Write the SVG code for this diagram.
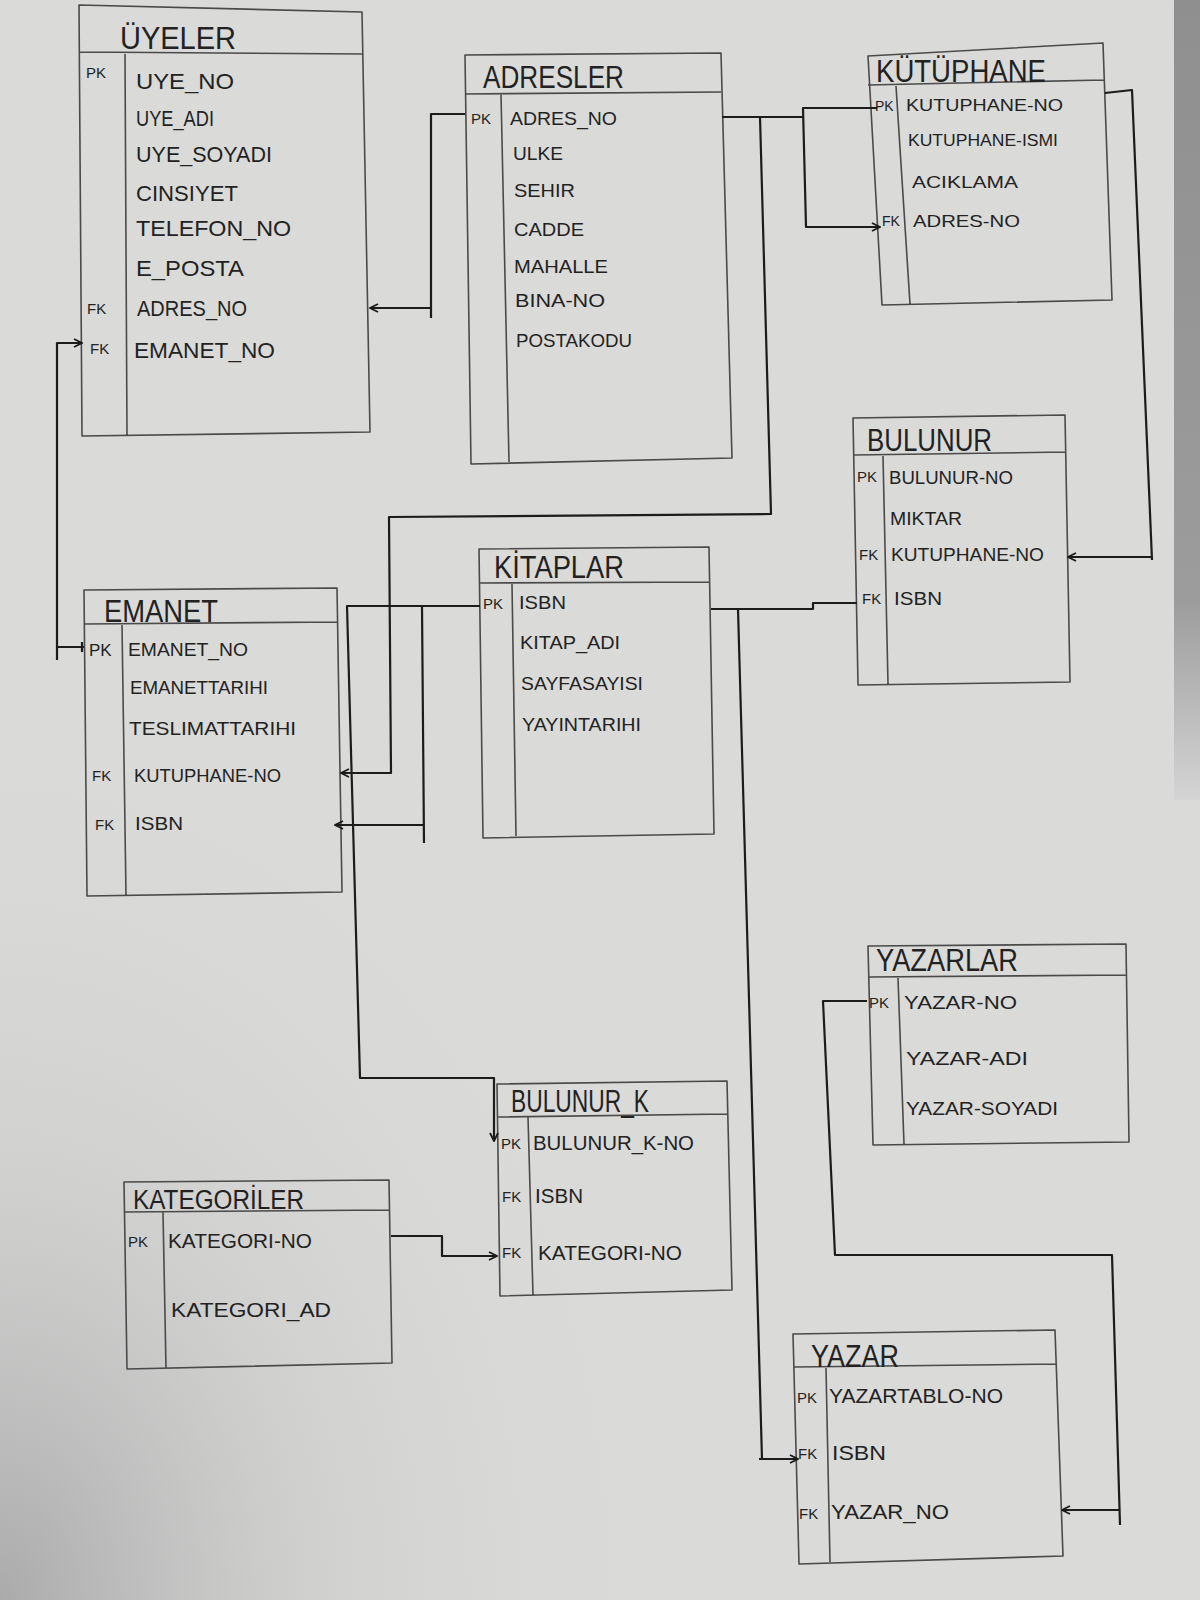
<svg xmlns="http://www.w3.org/2000/svg" width="1200" height="1600" viewBox="0 0 1200 1600">
<defs>
<radialGradient id="shade" cx="0" cy="1" r="0.55" gradientUnits="objectBoundingBox">
<stop offset="0" stop-color="#a2a2a2" stop-opacity="0.85"/>
<stop offset="0.5" stop-color="#c0c0c0" stop-opacity="0.35"/>
<stop offset="1" stop-color="#d6d6d6" stop-opacity="0"/>
</radialGradient>
<linearGradient id="edge" x1="0" y1="0" x2="0" y2="1">
<stop offset="0" stop-color="#8f8f8f"/>
<stop offset="0.75" stop-color="#9c9c9c"/>
<stop offset="1" stop-color="#d4d4d4"/>
</linearGradient>
<marker id="arr" viewBox="0 0 10 10" refX="9" refY="5" markerWidth="10" markerHeight="10" markerUnits="userSpaceOnUse" orient="auto">
<path d="M1,1 L9,5 L1,9" fill="none" stroke="#1a1a1a" stroke-width="1.8"/>
</marker>
<style>
.box{fill:none;stroke:#4a4a4a;stroke-width:1.6;stroke-linejoin:round}
.conn{fill:none;stroke:#1c1c1c;stroke-width:2.2;stroke-linejoin:round}
text{font-family:"Liberation Sans","DejaVu Sans",Arial,sans-serif;fill:#222}
.t{font-size:31px}
.k{font-size:15px}
</style>
</defs>
<rect x="0" y="0" width="1200" height="1600" fill="#dadad9"/>
<rect x="0" y="0" width="1200" height="1600" fill="url(#shade)"/>
<rect x="1174" y="0" width="26" height="800" fill="url(#edge)"/>

<g id="uyeler">
<path class="box" d="M79,5 L362,12 L370,432 L82,436 Z M80,52 L362,54 M125,54 L127,436"/>
<text class="t" x="120" y="49" textLength="116" lengthAdjust="spacingAndGlyphs">ÜYELER</text>
<text class="k" x="86" y="78">PK</text>
<g style="font-size:22px">
<text x="136" y="89" textLength="98" lengthAdjust="spacingAndGlyphs">UYE_NO</text>
<text x="136" y="126" textLength="78" lengthAdjust="spacingAndGlyphs">UYE_ADI</text>
<text x="136" y="162" textLength="136" lengthAdjust="spacingAndGlyphs">UYE_SOYADI</text>
<text x="136" y="201" textLength="102" lengthAdjust="spacingAndGlyphs">CINSIYET</text>
<text x="136" y="236" textLength="155" lengthAdjust="spacingAndGlyphs">TELEFON_NO</text>
<text x="136" y="276" textLength="108" lengthAdjust="spacingAndGlyphs">E_POSTA</text>
<text x="137" y="316" textLength="110" lengthAdjust="spacingAndGlyphs">ADRES_NO</text>
<text x="134" y="358" textLength="141" lengthAdjust="spacingAndGlyphs">EMANET_NO</text>
</g>
<text class="k" x="87" y="314">FK</text>
<text class="k" x="90" y="354">FK</text>
</g>

<g id="adresler">
<path class="box" d="M465,55 L721,53 L732,458 L471,464 Z M465,94 L721,92 M501,94 L509,462"/>
<text class="t" x="483" y="88" textLength="141" lengthAdjust="spacingAndGlyphs">ADRESLER</text>
<text class="k" x="471" y="124">PK</text>
<g style="font-size:19px">
<text x="510" y="125" textLength="107" lengthAdjust="spacingAndGlyphs">ADRES_NO</text>
<text x="513" y="160" textLength="50" lengthAdjust="spacingAndGlyphs">ULKE</text>
<text x="514" y="197" textLength="61" lengthAdjust="spacingAndGlyphs">SEHIR</text>
<text x="514" y="236" textLength="70" lengthAdjust="spacingAndGlyphs">CADDE</text>
<text x="514" y="273" textLength="94" lengthAdjust="spacingAndGlyphs">MAHALLE</text>
<text x="515" y="307" textLength="90" lengthAdjust="spacingAndGlyphs">BINA-NO</text>
<text x="516" y="347" textLength="116" lengthAdjust="spacingAndGlyphs">POSTAKODU</text>
</g>
</g>

<g id="kutuphane">
<path class="box" d="M868,56 L1103,43 L1112,300 L882,305 Z M868,85 L1104,80 M896,86 L910,304"/>
<text class="t" x="876" y="82" textLength="170" lengthAdjust="spacingAndGlyphs">KÜTÜPHANE</text>
<text class="k" x="875" y="111" style="font-size:14px">PK</text>
<text class="k" x="882" y="226" style="font-size:14px">FK</text>
<g style="font-size:17px">
<text x="906" y="111" textLength="157" lengthAdjust="spacingAndGlyphs">KUTUPHANE-NO</text>
<text x="908" y="146" textLength="150" lengthAdjust="spacingAndGlyphs">KUTUPHANE-ISMI</text>
<text x="912" y="188" textLength="106" lengthAdjust="spacingAndGlyphs">ACIKLAMA</text>
<text x="913" y="227" textLength="107" lengthAdjust="spacingAndGlyphs">ADRES-NO</text>
</g>
</g>

<g id="bulunur">
<path class="box" d="M853,418 L1065,415 L1070,682 L858,685 Z M853,455 L1066,452 M883,456 L888,684"/>
<text class="t" x="867" y="451" textLength="125" lengthAdjust="spacingAndGlyphs">BULUNUR</text>
<text class="k" x="857" y="482">PK</text>
<text class="k" x="859" y="560">FK</text>
<text class="k" x="862" y="604">FK</text>
<g style="font-size:18px">
<text x="889" y="484" textLength="124" lengthAdjust="spacingAndGlyphs">BULUNUR-NO</text>
<text x="890" y="525" textLength="72" lengthAdjust="spacingAndGlyphs">MIKTAR</text>
<text x="891" y="561" textLength="153" lengthAdjust="spacingAndGlyphs">KUTUPHANE-NO</text>
<text x="894" y="605" textLength="48" lengthAdjust="spacingAndGlyphs">ISBN</text>
</g>
</g>

<g id="kitaplar">
<path class="box" d="M479,549 L709,547 L714,834 L483,838 Z M479,583 L710,582 M512,584 L516,836"/>
<text class="t" x="494" y="578" textLength="130" lengthAdjust="spacingAndGlyphs">KİTAPLAR</text>
<text class="k" x="483" y="609">PK</text>
<g style="font-size:19px">
<text x="519" y="609" textLength="47" lengthAdjust="spacingAndGlyphs">ISBN</text>
<text x="520" y="649" textLength="100" lengthAdjust="spacingAndGlyphs">KITAP_ADI</text>
<text x="521" y="690" textLength="122" lengthAdjust="spacingAndGlyphs">SAYFASAYISI</text>
<text x="522" y="731" textLength="119" lengthAdjust="spacingAndGlyphs">YAYINTARIHI</text>
</g>
</g>

<g id="emanet">
<path class="box" d="M84,590 L337,588 L342,892 L87,896 Z M84,624 L338,622 M122,625 L126,895"/>
<text class="t" x="104" y="622" textLength="114" lengthAdjust="spacingAndGlyphs">EMANET</text>
<text class="k" x="89" y="656" style="font-size:17px">PK</text>
<text class="k" x="92" y="781">FK</text>
<text class="k" x="95" y="830">FK</text>
<g style="font-size:18px">
<text x="128" y="656" textLength="120" lengthAdjust="spacingAndGlyphs">EMANET_NO</text>
<text x="130" y="694" textLength="138" lengthAdjust="spacingAndGlyphs">EMANETTARIHI</text>
<text x="129" y="735" textLength="167" lengthAdjust="spacingAndGlyphs">TESLIMATTARIHI</text>
<text x="134" y="782" textLength="147" lengthAdjust="spacingAndGlyphs">KUTUPHANE-NO</text>
<text x="135" y="830" textLength="48" lengthAdjust="spacingAndGlyphs">ISBN</text>
</g>
</g>

<g id="yazarlar">
<path class="box" d="M868,946 L1126,944 L1129,1142 L873,1145 Z M868,977 L1126,975 M898,978 L904,1144"/>
<text class="t" x="876" y="971" textLength="142" lengthAdjust="spacingAndGlyphs">YAZARLAR</text>
<text class="k" x="869" y="1008">PK</text>
<g style="font-size:19px">
<text x="904" y="1009" textLength="113" lengthAdjust="spacingAndGlyphs">YAZAR-NO</text>
<text x="906" y="1065" textLength="122" lengthAdjust="spacingAndGlyphs">YAZAR-ADI</text>
<text x="906" y="1115" textLength="152" lengthAdjust="spacingAndGlyphs">YAZAR-SOYADI</text>
</g>
</g>

<g id="bulunur_k">
<path class="box" d="M497,1084 L727,1081 L732,1290 L500,1296 Z M497,1117 L728,1114 M528,1117 L533,1295"/>
<text class="t" x="511" y="1112" textLength="138" lengthAdjust="spacingAndGlyphs">BULUNUR_K</text>
<text class="k" x="501" y="1149">PK</text>
<text class="k" x="502" y="1202">FK</text>
<text class="k" x="502" y="1258">FK</text>
<g style="font-size:20px">
<text x="533" y="1150" textLength="161" lengthAdjust="spacingAndGlyphs">BULUNUR_K-NO</text>
<text x="535" y="1203" textLength="48" lengthAdjust="spacingAndGlyphs">ISBN</text>
<text x="538" y="1260" textLength="144" lengthAdjust="spacingAndGlyphs">KATEGORI-NO</text>
</g>
</g>

<g id="kategoriler">
<path class="box" d="M124,1182 L389,1180 L392,1363 L127,1369 Z M124,1212 L389,1210 M163,1212 L166,1368"/>
<text class="t" x="133" y="1209" textLength="171" lengthAdjust="spacingAndGlyphs" style="font-size:27px">KATEGORİLER</text>
<text class="k" x="128" y="1247">PK</text>
<g style="font-size:20px">
<text x="168" y="1248" textLength="144" lengthAdjust="spacingAndGlyphs">KATEGORI-NO</text>
<text x="171" y="1317" textLength="160" lengthAdjust="spacingAndGlyphs">KATEGORI_AD</text>
</g>
</g>

<g id="yazar">
<path class="box" d="M793,1334 L1055,1330 L1063,1556 L799,1564 Z M794,1367 L1056,1364 M826,1368 L830,1562"/>
<text class="t" x="811" y="1367" textLength="88" lengthAdjust="spacingAndGlyphs">YAZAR</text>
<text class="k" x="797" y="1403">PK</text>
<text class="k" x="798" y="1459">FK</text>
<text class="k" x="799" y="1519">FK</text>
<g style="font-size:21px">
<text x="829" y="1403" textLength="174" lengthAdjust="spacingAndGlyphs">YAZARTABLO-NO</text>
<text x="832" y="1460" textLength="54" lengthAdjust="spacingAndGlyphs">ISBN</text>
<text x="831" y="1519" textLength="118" lengthAdjust="spacingAndGlyphs">YAZAR_NO</text>
</g>
</g>

<g id="connectors">
<path class="conn" d="M465,114 L431,114 L431,318 M431,308 L370,308" marker-end="url(#arr)"/>
<path class="conn" d="M722,117 L803,117 M877,108 L803,108 L806,227 L880,227" marker-end="url(#arr)"/>
<path class="conn" d="M760,117 L771,514 L389,517 L391,773 L341,773" marker-end="url(#arr)"/>
<path class="conn" d="M1105,93 L1132,90 L1152,560 M1152,557 L1068,557" marker-end="url(#arr)"/>
<path class="conn" d="M57,660 L57,343 L82,343" marker-end="url(#arr)"/>
<path class="conn" d="M57,647 L84,647 M82,642 L82,652"/>
<path class="conn" d="M480,606 L347,606 L360,1078 L494,1078 L494,1141" marker-end="url(#arr)"/>
<path class="conn" d="M422,606 L424,843 M424,825 L335,825" marker-end="url(#arr)"/>
<path class="conn" d="M711,609 L813,609 L813,603 L857,603"/>
<path class="conn" d="M738,609 L762,1459 M759,1459 L798,1459" marker-end="url(#arr)"/>
<path class="conn" d="M867,1001 L823,1001 L835,1255 L1112,1255 L1120,1525 M1120,1510 L1062,1510" marker-end="url(#arr)"/>
<path class="conn" d="M391,1236 L442,1236 L442,1256 L497,1256" marker-end="url(#arr)"/>
</g>
</svg>
